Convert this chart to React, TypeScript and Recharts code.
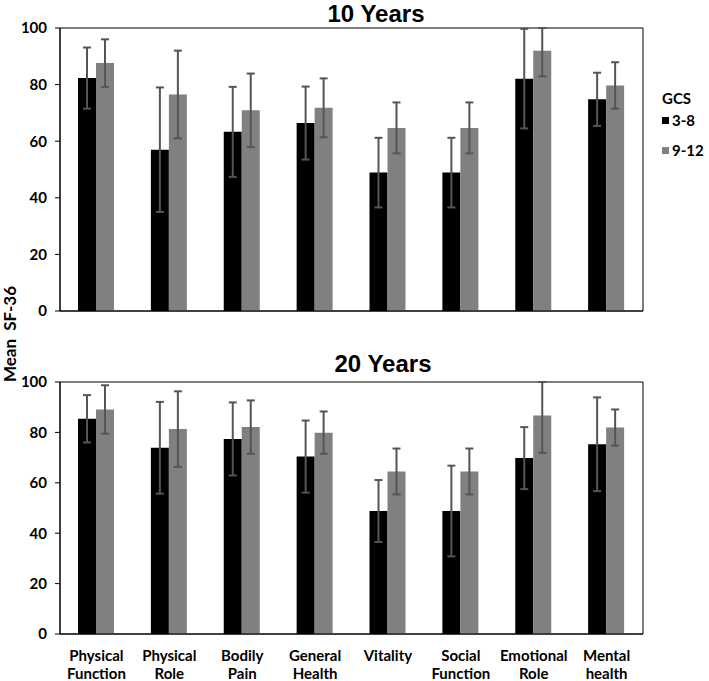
import React from "react";
import { BarChart, Bar, XAxis, YAxis, ErrorBar, Legend, ReferenceArea } from "recharts";

const categories = [
  "Physical Function",
  "Physical Role",
  "Bodily Pain",
  "General Health",
  "Vitality",
  "Social Function",
  "Emotional Role",
  "Mental health",
];
const groups = ["3-8", "9-12"];
const yTicks = [0, 20, 40, 60, 80, 100];
const boundaryTicks = [0, 1, 2, 3, 4, 5, 6, 7, 8];

// 10 years
const mean10Severe = [82.3, 57.0, 63.3, 66.4, 48.9, 48.9, 82.1, 74.8];
const sd10Severe = [10.8, 22.0, 15.9, 12.9, 12.3, 12.3, 17.6, 9.4];
const mean10Moderate = [87.6, 76.5, 70.9, 71.8, 64.7, 64.7, 92.0, 79.7];
const sd10Moderate = [8.4, 15.5, 13.0, 10.4, 9.0, 9.0, 9.1, 8.2];

// 20 years
const mean20Severe = [85.4, 73.9, 77.4, 70.4, 48.8, 48.8, 69.8, 75.3];
const sd20Severe = [9.4, 18.2, 14.5, 14.3, 12.3, 18.0, 12.3, 18.6];
const mean20Moderate = [89.1, 81.3, 82.1, 79.9, 64.5, 64.5, 86.7, 81.9];
const sd20Moderate = [9.6, 15.0, 10.6, 8.4, 9.1, 9.1, 14.8, 7.2];

const FONT = "Lato, 'Open Sans', sans-serif";
const ERR = "#555555";
const Y_MAX = 100;

// whiskers stop at the top of the frame, like the original
const whisker = (mean: number, sd: number) => [sd, Math.min(sd, Y_MAX - mean)];

function buildRows(a: number[], aSd: number[], b: number[], bSd: number[]) {
  return categories.map((name, i) => ({
    name,
    severe: a[i],
    severeErr: whisker(a[i], aSd[i]),
    moderate: b[i],
    moderateErr: whisker(b[i], bSd[i]),
  }));
}

const data10 = buildRows(mean10Severe, sd10Severe, mean10Moderate, sd10Moderate);
const data20 = buildRows(mean20Severe, sd20Severe, mean20Moderate, sd20Moderate);

function CategoryTick({ x, y, payload }: any) {
  const words = String(payload.value).split(" ");
  return (
    <text x={x} y={y} textAnchor="middle" fill="#000" fontSize={15} fontWeight={700}>
      {words.map((w, i) => (
        <tspan key={i} x={x} dy={18}>
          {w}
        </tspan>
      ))}
    </text>
  );
}

function LegendBox({ payload }: any) {
  return (
    <div style={{ fontFamily: FONT, fontWeight: 700, fontSize: 15, color: "#000", lineHeight: "18px" }}>
      <div style={{ marginBottom: 4 }}>GCS</div>
      {(payload || []).map((entry: any, i: number) => (
        <div key={i} style={{ display: "flex", alignItems: "center", marginBottom: 12 }}>
          <span style={{ width: 7, height: 7, background: entry.color, marginRight: 3, display: "inline-block" }} />
          <span>{entry.value}</span>
        </div>
      ))}
    </div>
  );
}

interface PanelProps {
  data: ReturnType<typeof buildRows>;
  height: number;
  top: number;
  bottom: number;
  labels?: boolean;
  legend?: boolean;
}

function Panel({ data, height, top, bottom, labels, legend }: PanelProps) {
  return (
    <BarChart
      width={709}
      height={height}
      data={data}
      margin={{ top, right: 66, bottom, left: 20 }}
      barGap={0}
    >
      <XAxis
        xAxisId="a"
        type="number"
        domain={[0, 8]}
        ticks={boundaryTicks}
        allowDataOverflow
        tick={false}
        tickSize={5}
        height={1}
        axisLine={{ stroke: "#000" }}
        tickLine={{ stroke: "#000" }}
      />
      <XAxis
        xAxisId="b"
        dataKey="name"
        type="category"
        hide={!labels}
        axisLine={false}
        tickLine={false}
        interval={0}
        height={46}
        tick={<CategoryTick />}
      />
      <YAxis
        domain={[0, Y_MAX]}
        ticks={yTicks}
        allowDataOverflow
        width={40}
        tickSize={5}
        tickMargin={8}
        axisLine={{ stroke: "#000" }}
        tickLine={{ stroke: "#000" }}
        tick={{ fill: "#000", fontSize: 15, fontWeight: 700 }}
      />
      <ReferenceArea
        xAxisId="b"
        x1={categories[0]}
        x2={categories[categories.length - 1]}
        y1={0}
        y2={Y_MAX}
        fill="none"
        fillOpacity={0}
        stroke="#000"
        strokeWidth={1}
        ifOverflow="visible"
      />
      <Bar xAxisId="b" dataKey="severe" name={groups[0]} fill="#000000" barSize={18} isAnimationActive={false}>
        <ErrorBar dataKey="severeErr" width={4} stroke={ERR} strokeWidth={2} />
      </Bar>
      <Bar xAxisId="b" dataKey="moderate" name={groups[1]} fill="#808080" barSize={18} isAnimationActive={false}>
        <ErrorBar dataKey="moderateErr" width={4} stroke={ERR} strokeWidth={2} />
      </Bar>
      {legend && (
        <Legend
          layout="vertical"
          align="center"
          verticalAlign="middle"
          content={<LegendBox />}
          wrapperStyle={{ left: 662, top: 89, width: "auto" }}
        />
      )}
    </BarChart>
  );
}

const titleStyle: React.CSSProperties = {
  position: "absolute",
  width: 200,
  textAlign: "center",
  fontFamily: "'Liberation Sans', Arial, sans-serif",
  fontSize: 24,
  fontWeight: 700,
};

export default function App() {
  return (
    <div
      style={{
        position: "absolute",
        left: 0,
        top: 0,
        width: 709,
        height: 681,
        background: "#fff",
        fontFamily: FONT,
        overflow: "hidden",
      }}
    >
      <div style={{ position: "absolute", left: 0, top: 0 }}>
        <Panel data={data10} height={320} top={28} bottom={8} legend />
      </div>
      <div style={{ position: "absolute", left: 0, top: 330 }}>
        <Panel data={data20} height={351} top={52} bottom={0} labels />
      </div>
      <div style={{ ...titleStyle, left: 276, top: 0 }}>10 Years</div>
      <div style={{ ...titleStyle, left: 283, top: 350 }}>20 Years</div>
      <div
        style={{
          position: "absolute",
          left: 9,
          top: 334,
          transform: "translate(-50%, -50%) rotate(-90deg)",
          whiteSpace: "nowrap",
          fontSize: 17,
          fontWeight: 700,
        }}
      >
        Mean&nbsp; SF-36
      </div>
    </div>
  );
}
